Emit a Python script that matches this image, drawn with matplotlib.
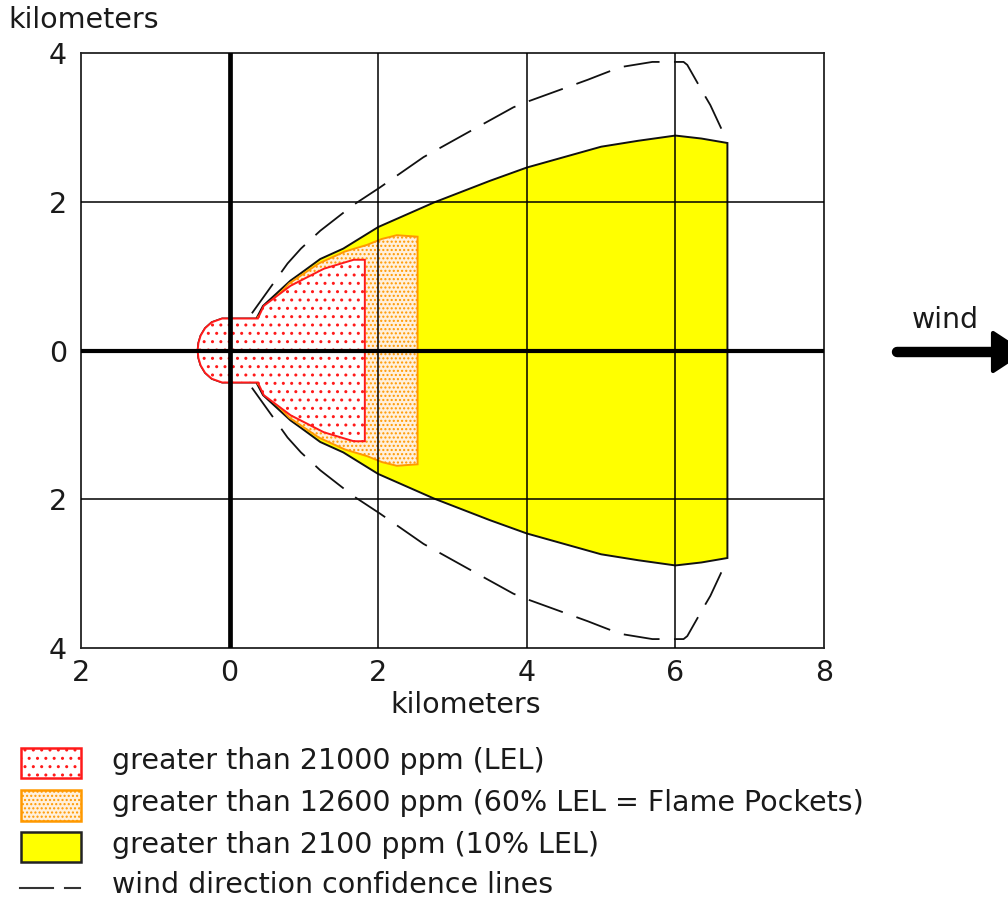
import matplotlib.pyplot as plt
from matplotlib.patches import Polygon, Rectangle

# === Data (kilometers, upper half; plume is symmetric about the wind axis) ===

# Yellow zone: greater than 2100 ppm (10% LEL)
toxic_x = [-0.43, -0.42, -0.39, -0.33, -0.24, -0.1, 0.36, 0.45, 0.82, 0.96, 1.22, 1.53, 2.0, 2.75, 3.5, 4.0, 5.0, 5.5, 6.0, 6.35, 6.7]
toxic_y = [0.0, 0.1, 0.2, 0.3, 0.38, 0.43, 0.43, 0.6, 0.94, 1.04, 1.23, 1.37, 1.66, 1.99, 2.28, 2.46, 2.74, 2.82, 2.89, 2.85, 2.79]

# Orange zone: greater than 12600 ppm (60% LEL = Flame Pockets)
flame_x = [0.38, 0.8, 1.2, 1.55, 1.85, 2.05, 2.25, 2.53]
flame_y = [0.45, 0.9, 1.17, 1.33, 1.42, 1.5, 1.55, 1.53]

# Red zone: greater than 21000 ppm (LEL)
lel_x = [-0.43, -0.42, -0.39, -0.33, -0.24, -0.1, 0.38, 0.46, 0.82, 1.27, 1.67, 1.82]
lel_y = [0.0, 0.1, 0.2, 0.3, 0.38, 0.43, 0.43, 0.6, 0.87, 1.1, 1.22, 1.22]

# Wind direction confidence line (upper; lower one is mirrored)
conf_x = [0.3, 0.78, 0.96, 1.22, 1.67, 2.02, 2.61, 3.24, 3.82, 4.02, 4.82, 5.0, 5.26, 5.69, 6.11, 6.16, 6.37, 6.47, 6.68]
conf_y = [0.5, 1.17, 1.37, 1.61, 1.96, 2.19, 2.6, 2.95, 3.27, 3.35, 3.64, 3.71, 3.81, 3.88, 3.88, 3.84, 3.47, 3.3, 2.85]

x_ticks = [-2, 0, 2, 4, 6, 8]
x_tick_labels = ["2", "0", "2", "4", "6", "8"]
y_ticks = [-4, -2, 0, 2, 4]
y_tick_labels = ["4", "2", "0", "2", "4"]

legend_labels = [
    "greater than 21000 ppm (LEL)",
    "greater than 12600 ppm (60% LEL = Flame Pockets)",
    "greater than 2100 ppm (10% LEL)",
    "wind direction confidence lines",
]


def mirrored(xs, ys):
    # upper half going out, lower half coming back
    pts = list(zip(xs, ys))
    pts += [(x, -y) for x, y in reversed(list(zip(xs, ys)))]
    return pts


plt.rcParams["font.family"] = ["DejaVu Sans"]
plt.rcParams["hatch.linewidth"] = 1.0
font_size = 20.5
text_color = "#1a1a1a"
red = "#ff1a1a"
orange = "#ff9900"
orange_face = "#fff0dc"

fig = plt.figure(figsize=(10.08, 8.98), dpi=100)

# overlay in pixel coordinates for the free text, legend and wind arrow
ov = fig.add_axes([0, 0, 1, 1])
ov.set_xlim(0, 1008)
ov.set_ylim(898, 0)
ov.axis("off")

ax = fig.add_axes([81 / 1008, 250 / 898, 743 / 1008, 595 / 898])
ax.set_xlim(-2, 8)
ax.set_ylim(-4, 4)

# zones
ax.add_patch(Polygon(mirrored(toxic_x, toxic_y), closed=True, facecolor="#ffff00",
                     edgecolor="#111111", linewidth=1.4, zorder=1))
ax.add_patch(Polygon(mirrored(flame_x, flame_y), closed=True, facecolor=orange_face,
                     edgecolor=orange, hatch="....", linewidth=1.4, zorder=2))
ax.add_patch(Polygon(mirrored(lel_x, lel_y), closed=True, facecolor="white",
                     edgecolor=red, hatch="..", linewidth=1.4, zorder=3))

# grid + main axes lines
for gx in [2, 4, 6]:
    ax.axvline(gx, color="black", linewidth=1.1, zorder=4)
for gy in [-2, 2]:
    ax.axhline(gy, color="black", linewidth=1.1, zorder=4)
ax.axvline(0, color="black", linewidth=3.4, zorder=5)
ax.axhline(0, color="black", linewidth=3.0, zorder=5)

# confidence lines
dash = (0, (20, 8))
ax.plot(conf_x, conf_y, color="#111111", linewidth=1.3, linestyle=dash, zorder=6)
ax.plot(conf_x, [-v for v in conf_y], color="#111111", linewidth=1.3, linestyle=dash, zorder=6)

ax.set_xticks(x_ticks)
ax.set_xticklabels(x_tick_labels)
ax.set_yticks(y_ticks)
ax.set_yticklabels(y_tick_labels)
ax.tick_params(length=0, labelsize=font_size, labelcolor=text_color)
ax.tick_params(axis="x", pad=8)
ax.tick_params(axis="y", pad=10)
for s in ax.spines.values():
    s.set_linewidth(1.3)
    s.set_color("#222222")

# axis titles
ov.text(84, 20, "kilometers", fontsize=font_size, color=text_color, ha="center", va="center")
ov.text(466, 705, "kilometers", fontsize=font_size, color=text_color, ha="center", va="center")

# wind arrow
ov.text(945, 320, "wind", fontsize=font_size, color=text_color, ha="center", va="center")
ov.plot([897, 995], [352, 352], color="black", linewidth=7.5, solid_capstyle="round")
ov.add_patch(Polygon([(993, 333), (993, 371), (1022, 352)], closed=True, facecolor="black",
                     edgecolor="black", linewidth=3, joinstyle="round"))

# legend
ov.add_patch(Rectangle((21, 748), 60, 30, facecolor="white", edgecolor=red,
                       hatch="..", linewidth=1.8))
ov.add_patch(Rectangle((21, 790), 60, 31, facecolor=orange_face, edgecolor=orange,
                       hatch="....", linewidth=1.8))
ov.add_patch(Rectangle((21, 832), 60, 30, facecolor="#ffff00", edgecolor="#222222",
                       linewidth=1.8))
ov.plot([20, 53], [888, 888], color="#333333", linewidth=1.5)
ov.plot([65, 80], [888, 888], color="#333333", linewidth=1.5)
for i, label in enumerate(legend_labels):
    ov.text(112, [761, 803, 845, 885][i], label, fontsize=font_size, color=text_color,
            ha="left", va="center")

fig.savefig("out.png", dpi=100)
